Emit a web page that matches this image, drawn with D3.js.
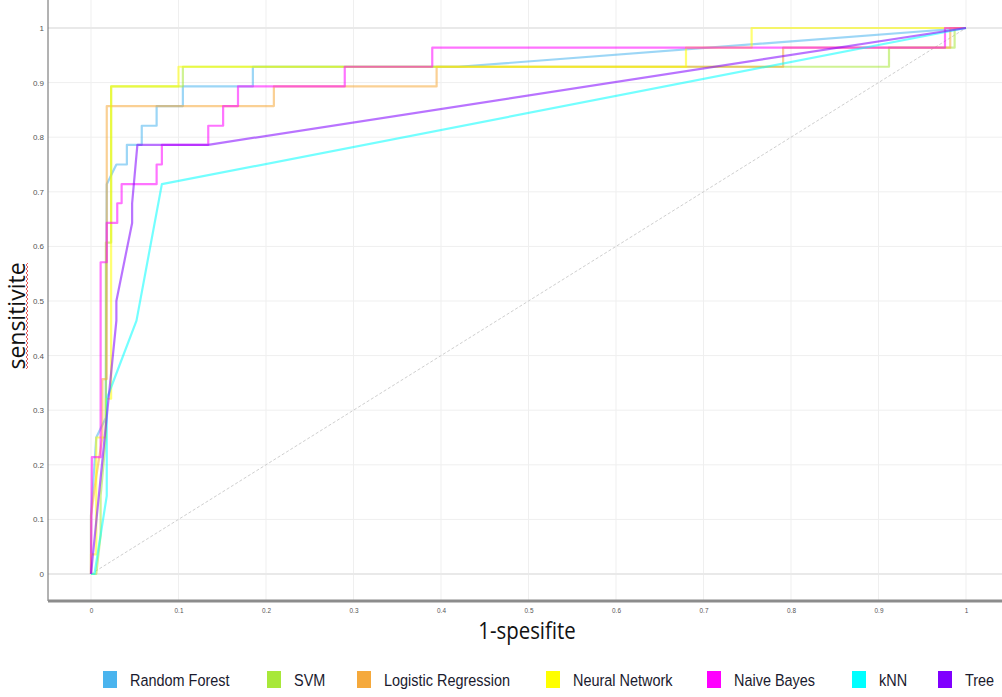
<!DOCTYPE html>
<html>
<head>
<meta charset="utf-8">
<script src="https://cdn.jsdelivr.net/npm/d3@7"></script>
<style>
    body { margin: 0; background: #fff; }
    svg { display: block; font-family: "Liberation Sans", Arial, sans-serif; }
</style>
</head>
<body>
<div class="roc-chart"></div>
<script>
// ROC curves, one pair of arrays per model (x = 1-spesifite, y = sensitivite)
const models = ['Random Forest', 'SVM', 'Logistic Regression', 'Neural Network', 'Naive Bayes', 'kNN', 'Tree'];
const colors = ['#4ab4ee', '#a8e83a', '#f5a93c', '#ffff00', '#ff00ff', '#00ffff', '#8000ff'];

const rfX = [0, 0, 0.006, 0.017, 0.017, 0.018, 0.029, 0.041, 0.041, 0.058, 0.058, 0.075, 0.075, 0.105, 0.105, 0.185, 0.185, 0.42, 1];
const rfY = [0, 0.107, 0.25, 0.286, 0.321, 0.714, 0.75, 0.75, 0.786, 0.786, 0.821, 0.821, 0.857, 0.857, 0.893, 0.893, 0.929, 0.929, 1];

const svmX = [0, 0.006, 0.011, 0.011, 0.017, 0.017, 0.023, 0.023, 0.105, 0.105, 0.912, 0.912, 0.987, 0.987, 1];
const svmY = [0, 0, 0.071, 0.143, 0.25, 0.607, 0.607, 0.893, 0.893, 0.929, 0.929, 0.964, 0.964, 1, 1];

const lrX = [0, 0, 0.006, 0.013, 0.013, 0.018, 0.018, 0.209, 0.209, 0.395, 0.395, 0.791, 0.791, 0.982, 0.982, 1];
const lrY = [0, 0.107, 0.179, 0.25, 0.357, 0.357, 0.857, 0.857, 0.893, 0.893, 0.929, 0.929, 0.964, 0.964, 1, 1];

const nnX = [0, 0, 0.006, 0.006, 0.017, 0.017, 0.023, 0.023, 0.1, 0.1, 0.68, 0.68, 0.755, 0.755, 1];
const nnY = [0, 0.036, 0.036, 0.25, 0.25, 0.321, 0.321, 0.893, 0.893, 0.929, 0.929, 0.964, 0.964, 1, 1];

const nbX = [0, 0.001, 0.011, 0.011, 0.018, 0.018, 0.03, 0.03, 0.035, 0.035, 0.075, 0.075, 0.081, 0.081, 0.134, 0.134, 0.151, 0.151, 0.168, 0.168, 0.29, 0.29, 0.39, 0.39, 0.976, 0.976, 1];
const nbY = [0, 0.214, 0.214, 0.571, 0.571, 0.643, 0.643, 0.679, 0.679, 0.714, 0.714, 0.75, 0.75, 0.786, 0.786, 0.821, 0.821, 0.857, 0.857, 0.893, 0.893, 0.929, 0.929, 0.964, 0.964, 1, 1];

const knnX = [0, 0.004, 0.018, 0.018, 0.052, 0.081, 1];
const knnY = [0, 0, 0.143, 0.321, 0.464, 0.714, 1];

const treeX = [0, 0.029, 0.029, 0.047, 0.047, 0.053, 0.134, 1];
const treeY = [0, 0.464, 0.5, 0.643, 0.679, 0.786, 0.786, 1];

const curvesX = [rfX, svmX, lrX, nnX, nbX, knnX, treeX];
const curvesY = [rfY, svmY, lrY, nnY, nbY, knnY, treeY];

const tickValues = [0, 0.1, 0.2, 0.3, 0.4, 0.5, 0.6, 0.7, 0.8, 0.9, 1];

const width = 1002;
const height = 697;
const frame = { left: 48, top: 0, right: 1002, bottom: 601 };

const x = d3.scaleLinear().domain([0, 1]).range([91, 966]);
const y = d3.scaleLinear().domain([0, 1]).range([574, 28]);

const svg = d3.select('.roc-chart').append('svg')
    .attr('width', width)
    .attr('height', height);

// grid
svg.append('g').selectAll('line').data(tickValues).enter().append('line')
    .attr('x1', d => x(d)).attr('x2', d => x(d))
    .attr('y1', frame.top).attr('y2', frame.bottom)
    .attr('stroke', '#efefef').attr('stroke-width', 1);

svg.append('g').selectAll('line').data(tickValues).enter().append('line')
    .attr('x1', frame.left).attr('x2', frame.right)
    .attr('y1', d => y(d)).attr('y2', d => y(d))
    .attr('stroke', d => (d === 0 || d === 1) ? '#e9e9e9' : '#efefef')
    .attr('stroke-width', d => (d === 0 || d === 1) ? 2 : 1);

// axes
const xAxis = svg.append('g')
    .attr('transform', `translate(0, ${frame.bottom})`)
    .call(d3.axisBottom(x).tickValues(tickValues).tickSize(0).tickPadding(6).tickFormat(d3.format('')));
xAxis.select('.domain').remove();
xAxis.selectAll('text')
    .attr('font-size', 8).attr('fill', '#555')
    .attr('transform', 'scale(0.8, 1)');

const yAxis = svg.append('g')
    .attr('transform', `translate(${frame.left}, 0)`)
    .call(d3.axisLeft(y).tickValues(tickValues).tickSize(0).tickPadding(4).tickFormat(d3.format('')));
yAxis.select('.domain').remove();
yAxis.selectAll('text').attr('font-size', 8).attr('fill', '#555');

svg.append('line')
    .attr('x1', frame.left).attr('x2', frame.left)
    .attr('y1', frame.top).attr('y2', frame.bottom)
    .attr('stroke', '#666').attr('stroke-width', 1);

svg.append('line')
    .attr('x1', frame.left).attr('x2', frame.right)
    .attr('y1', frame.bottom).attr('y2', frame.bottom)
    .attr('stroke', '#8c8c8c').attr('stroke-width', 3);

// chance line
svg.append('line')
    .attr('x1', x(0)).attr('y1', y(0))
    .attr('x2', x(1)).attr('y2', y(1))
    .attr('stroke', '#cfcfcf').attr('stroke-width', 1)
    .attr('stroke-dasharray', '3,2');

// roc curves
const line = d3.line().x(d => x(d[0])).y(d => y(d[1]));

svg.append('g').selectAll('path')
    .data(models.map((m, i) => curvesX[i].map((v, j) => [v, curvesY[i][j]])))
    .enter().append('path')
    .attr('d', line)
    .attr('fill', 'none')
    .attr('stroke', (d, i) => colors[i])
    .attr('stroke-opacity', 0.55)
    .attr('stroke-width', 2.2)
    .attr('stroke-linejoin', 'round');

// axis titles
svg.append('text')
    .attr('transform', 'translate(527, 639) scale(0.85, 1)')
    .attr('text-anchor', 'middle')
    .attr('font-family', '"Open Sans", sans-serif')
    .attr('font-size', 24)
    .attr('fill', '#111')
    .text('1-spesifite');

svg.append('text')
    .attr('transform', 'translate(25, 316) rotate(-90)')
    .attr('text-anchor', 'middle')
    .attr('font-family', '"Open Sans", sans-serif')
    .attr('font-size', 23)
    .attr('fill', '#111')
    .text('sensitivite');

// spell-check squiggle under the y title
const squiggle = d3.range(263, 370, 2).map((v, i) => [i % 2 ? 26 : 28, v]);
svg.append('path')
    .attr('d', d3.line()(squiggle))
    .attr('fill', 'none')
    .attr('stroke', '#e03030')
    .attr('stroke-width', 0.8);

// legend
const legendX = [103, 267, 357, 546, 707, 852, 938];
const legend = svg.append('g').selectAll('g')
    .data(models).enter().append('g')
    .attr('transform', (d, i) => `translate(${legendX[i]}, 671)`);

legend.append('rect')
    .attr('width', 14).attr('height', 17)
    .attr('fill', (d, i) => colors[i]);

legend.append('text')
    .attr('transform', 'translate(27, 15) scale(0.85, 1)')
    .attr('font-size', 17)
    .attr('fill', '#1a1a2e')
    .text(d => d);
</script>
</body>
</html>
